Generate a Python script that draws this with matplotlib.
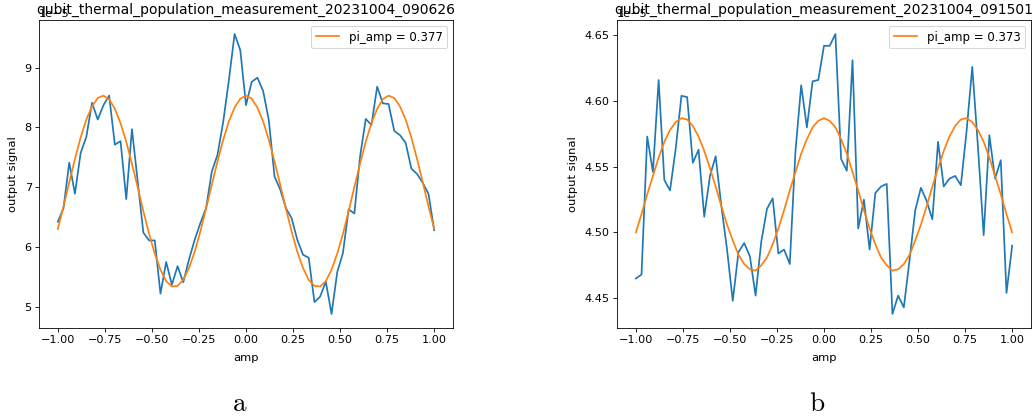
import numpy as np
import matplotlib
matplotlib.use("Agg")
import matplotlib.pyplot as plt

# ---- data (signal in units of 1e-5) ----
n_points = 67
amp = np.linspace(-1.0, 1.0, n_points)

signal_a = [6.42, 6.65, 7.41, 6.89, 7.57, 7.84, 8.41, 8.13, 8.37, 8.53,
            7.71, 7.77, 6.80, 7.97, 7.10, 6.24, 6.11, 6.11, 5.22, 5.75,
            5.37, 5.68, 5.41, 5.79, 6.12, 6.40, 6.65, 7.26, 7.54, 8.09,
            8.79, 9.56, 9.29, 8.37, 8.76, 8.83, 8.61, 8.12, 7.18, 6.96,
            6.65, 6.48, 6.12, 5.87, 5.82, 5.08, 5.17, 5.42, 4.88, 5.58,
            5.90, 6.63, 6.56, 7.51, 8.14, 8.04, 8.68, 8.40, 8.39, 7.94,
            7.87, 7.74, 7.31, 7.22, 7.07, 6.89, 6.28]

fit_a = [6.30, 6.68, 7.08, 7.47, 7.83, 8.13, 8.35, 8.49, 8.53, 8.47,
         8.31, 8.07, 7.76, 7.39, 7.00, 6.60, 6.22, 5.89, 5.62, 5.43,
         5.34, 5.35, 5.45, 5.65, 5.92, 6.26, 6.64, 7.04, 7.43, 7.79,
         8.10, 8.33, 8.48, 8.53, 8.48, 8.33, 8.10, 7.79, 7.43, 7.04,
         6.64, 6.26, 5.92, 5.65, 5.45, 5.35, 5.34, 5.43, 5.62, 5.89,
         6.22, 6.60, 7.00, 7.39, 7.76, 8.07, 8.31, 8.47, 8.53, 8.49,
         8.35, 8.13, 7.83, 7.47, 7.08, 6.68, 6.30]

signal_b = [4.465, 4.468, 4.573, 4.546, 4.616, 4.540, 4.532, 4.564, 4.604, 4.603,
            4.553, 4.563, 4.512, 4.543, 4.558, 4.520, 4.487, 4.448, 4.485, 4.492,
            4.482, 4.452, 4.493, 4.518, 4.526, 4.484, 4.487, 4.476, 4.562, 4.612,
            4.580, 4.615, 4.616, 4.642, 4.642, 4.651, 4.556, 4.547, 4.631, 4.503,
            4.525, 4.487, 4.530, 4.535, 4.537, 4.438, 4.452, 4.443, 4.479, 4.517,
            4.534, 4.524, 4.510, 4.569, 4.535, 4.541, 4.543, 4.536, 4.577, 4.626,
            4.565, 4.498, 4.574, 4.541, 4.555, 4.454, 4.490]

fit_b = [4.500, 4.514, 4.529, 4.543, 4.557, 4.569, 4.578, 4.584, 4.587, 4.586,
         4.581, 4.573, 4.562, 4.549, 4.535, 4.520, 4.506, 4.494, 4.483, 4.476,
         4.472, 4.471, 4.475, 4.481, 4.491, 4.503, 4.517, 4.532, 4.546, 4.560,
         4.571, 4.580, 4.585, 4.587, 4.585, 4.580, 4.571, 4.560, 4.546, 4.532,
         4.517, 4.503, 4.491, 4.481, 4.475, 4.471, 4.472, 4.476, 4.483, 4.494,
         4.506, 4.520, 4.535, 4.549, 4.562, 4.573, 4.581, 4.586, 4.587, 4.584,
         4.578, 4.569, 4.557, 4.543, 4.529, 4.514, 4.500]

titles = ["qubit_thermal_population_measurement_20231004_090626",
          "qubit_thermal_population_measurement_20231004_091501"]
legend_labels = ["pi_amp = 0.377", "pi_amp = 0.373"]
captions = ["a", "b"]
scale = 1e-5

DPI = 75
plt.rcParams.update({
    "xtick.labelsize": 10.8,
    "ytick.labelsize": 10.8,
    "axes.labelsize": 11,
    "legend.fontsize": 11.3,
    "lines.linewidth": 1.65,
})
fig = plt.figure(figsize=(1036 / DPI, 419 / DPI), dpi=DPI)

W, H = 1036, 419
def rect(x0, x1, y0, y1):
    return [x0 / W, 1 - y1 / H, (x1 - x0) / W, (y1 - y0) / H]

ax1 = fig.add_axes(rect(39, 453, 20, 328))
ax2 = fig.add_axes(rect(617, 1031, 20, 328))

for ax, sig, fit, title, lab in [(ax1, signal_a, fit_a, titles[0], legend_labels[0]),
                                  (ax2, signal_b, fit_b, titles[1], legend_labels[1])]:
    ax.plot(amp, np.array(sig) * scale, color="C0")
    ax.plot(amp, np.array(fit) * scale, color="C1", label=lab)
    ax.set_title(title, y=1.0, fontsize=13.3)
    ax.set_xlabel("amp", labelpad=7.5)
    ax.set_ylabel("output signal", labelpad=6.5)
    ax.set_xticks([-1.0, -0.75, -0.5, -0.25, 0.0, 0.25, 0.5, 0.75, 1.0])
    ax.yaxis.get_offset_text().set_fontsize(10.8)
    ax.legend(loc="upper right")

for cx, cap in zip([240, 817], captions):
    fig.text(cx / W, 1 - 404 / H, r"$\mathrm{%s}$" % cap, ha="center", va="center",
             fontsize=26, math_fontfamily="cm")

fig.savefig("out.png", dpi=DPI)
